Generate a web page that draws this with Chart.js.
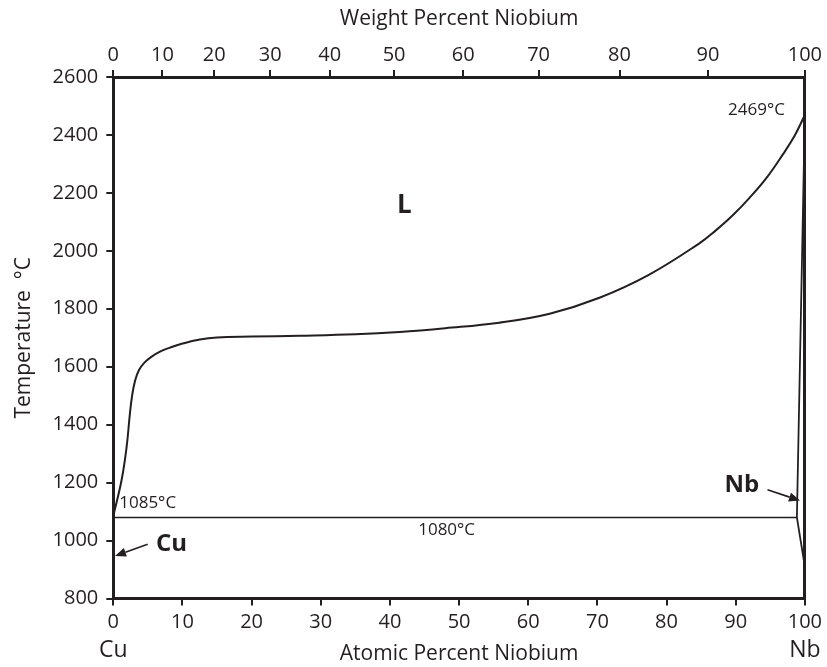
<!DOCTYPE html>
<html>
<head>
<meta charset="utf-8">
<script src="https://cdn.jsdelivr.net/npm/chart.js@4.4.1/dist/chart.umd.min.js"></script>
<style>
  html, body { margin: 0; padding: 0; background: #fff; }
  #wrap { width: 827px; height: 667px; }
</style>
</head>
<body>
<div id="wrap"><canvas id="phase"></canvas></div>
<script>
// liquidus (atomic % Nb, °C)
const liqAt = [0, 1.2, 1.93, 2.41, 2.75, 3.15, 3.7, 4.5, 5.5, 6.75, 8.2, 10, 12.5, 15, 20, 27, 35, 41.4, 48, 55.8, 63.1, 70.3, 77.5, 84.7, 87, 89.5, 92, 94.4, 96.8, 98.5, 100];
const liqT  = [1085, 1209, 1324, 1440, 1505, 1552, 1588, 1614, 1634, 1652, 1666, 1680, 1694, 1701, 1704, 1707, 1712, 1720, 1733, 1752, 1783, 1838, 1918, 2025, 2068, 2121, 2183, 2250, 2332, 2396, 2469];

// eutectic line at 1080 °C
const eutAt = [0, 98.85];
const eutT  = [1080, 1080];

// Nb-side solidus / solvus
const nbAt = [100, 98.85, 100];
const nbT  = [2469, 1080, 910];

// top ticks (weight %) with their atomic-% positions
const wtLabels = [0, 10, 20, 30, 40, 50, 60, 70, 80, 90, 100];
const wtAtPos  = [0, 7.1, 14.6, 22.7, 31.3, 40.6, 50.6, 61.5, 73.2, 86.0, 100];

const INK = '#231f20';
const FONT = '"Open Sans", "DejaVu Sans", sans-serif';

const pts = (xs, ys) => xs.map((v, i) => ({ x: v, y: ys[i] }));

const notes = [
  { text: '2469°C', x: 93.0, y: 2484, size: 17, weight: 'normal' },
  { text: '1085°C', x: 4.97, y: 1129, size: 17, weight: 'normal' },
  { text: '1080°C', x: 48.2, y: 1037, size: 17, weight: 'normal' },
  { text: 'L', x: 42.1, y: 2156, size: 26, weight: 'bold' },
  { text: 'Cu', x: 8.43, y: 988, size: 24, weight: 'bold' },
  { text: 'Nb', x: 90.9, y: 1192, size: 24, weight: 'bold' }
];
const arrows = [
  { from: [4.97, 987], to: [0.25, 947] },
  { from: [94.6, 1175], to: [99.3, 1138] }
];

const notesPlugin = {
  id: 'notes',
  afterDraw(chart) {
    const { ctx, scales: { x, y }, chartArea } = chart;
    ctx.save();
    ctx.fillStyle = INK;
    ctx.strokeStyle = INK;
    ctx.textAlign = 'center';
    ctx.textBaseline = 'middle';
    notes.forEach(n => {
      ctx.font = n.weight + ' ' + n.size + 'px ' + FONT;
      ctx.fillText(n.text, x.getPixelForValue(n.x), y.getPixelForValue(n.y));
    });
    // element names under the end ticks
    ctx.font = '23px ' + FONT;
    ctx.fillText('Cu', x.getPixelForValue(0), chartArea.bottom + 52);
    ctx.fillText('Nb', x.getPixelForValue(100), chartArea.bottom + 52);
    // arrows
    arrows.forEach(a => {
      const x1 = x.getPixelForValue(a.from[0]), y1 = y.getPixelForValue(a.from[1]);
      const x2 = x.getPixelForValue(a.to[0]), y2 = y.getPixelForValue(a.to[1]);
      const ang = Math.atan2(y2 - y1, x2 - x1);
      const hl = 11, hw = 4.5;
      const bx = x2 - hl * Math.cos(ang), by = y2 - hl * Math.sin(ang);
      ctx.lineWidth = 1.6;
      ctx.beginPath();
      ctx.moveTo(x1, y1);
      ctx.lineTo(bx, by);
      ctx.stroke();
      ctx.beginPath();
      ctx.moveTo(x2, y2);
      ctx.lineTo(bx + hw * Math.sin(ang), by - hw * Math.cos(ang));
      ctx.lineTo(bx - hw * Math.sin(ang), by + hw * Math.cos(ang));
      ctx.closePath();
      ctx.fill();
    });
    ctx.restore();
  }
};

const tickFont = { family: FONT, size: 20 };
const titleFont = { family: FONT, size: 21 };
const gridOpts = { drawOnChartArea: false, color: INK, lineWidth: 2, tickLength: 7 };
const borderOpts = { color: INK, width: 3 };

new Chart(document.getElementById('phase'), {
  type: 'scatter',
  data: {
    datasets: [
      { data: pts(liqAt, liqT), showLine: true, borderColor: INK, borderWidth: 2, pointRadius: 0, tension: 0.4 },
      { data: pts(eutAt, eutT), showLine: true, borderColor: INK, borderWidth: 1.5, pointRadius: 0 },
      { data: pts(nbAt, nbT), showLine: true, borderColor: INK, borderWidth: 1.8, pointRadius: 0 }
    ]
  },
  options: {
    responsive: true,
    maintainAspectRatio: false,
    animation: false,
    layout: { padding: 0 },
    plugins: { legend: { display: false }, tooltip: { enabled: false } },
    scales: {
      x: {
        type: 'linear', position: 'bottom', min: 0, max: 100,
        ticks: { stepSize: 10, color: INK, font: tickFont, padding: 5, maxRotation: 0 },
        grid: gridOpts, border: borderOpts,
        title: { display: true, text: 'Atomic Percent Niobium', color: INK, font: titleFont, padding: { top: 0, bottom: 0 } },
        afterFit: s => { s.height = 68.5; }
      },
      x2: {
        type: 'linear', position: 'top', min: 0, max: 100,
        afterBuildTicks: s => { s.ticks = wtAtPos.map(v => ({ value: v })); },
        ticks: { color: INK, font: tickFont, padding: 3, maxRotation: 0, autoSkip: false,
                 callback: (v, i) => wtLabels[i] },
        grid: gridOpts, border: borderOpts,
        title: { display: true, text: 'Weight Percent Niobium', color: INK, font: titleFont, padding: { top: 6, bottom: 0 } },
        afterFit: s => { s.height = 77; }
      },
      y: {
        type: 'linear', position: 'left', min: 800, max: 2600,
        ticks: { stepSize: 200, color: INK, font: tickFont, padding: 8, callback: v => String(v) },
        grid: gridOpts, border: borderOpts,
        title: { display: true, text: 'Temperature  °C', color: INK, font: titleFont, padding: { top: 11, bottom: 0 } },
        afterFit: s => { s.width = 113.3; }
      },
      y2: {
        type: 'linear', position: 'right', min: 800, max: 2600,
        ticks: { display: false },
        grid: { drawOnChartArea: false, drawTicks: false },
        border: borderOpts,
        afterFit: s => { s.width = 21; }
      }
    }
  },
  plugins: [notesPlugin]
});
</script>
</body>
</html>
